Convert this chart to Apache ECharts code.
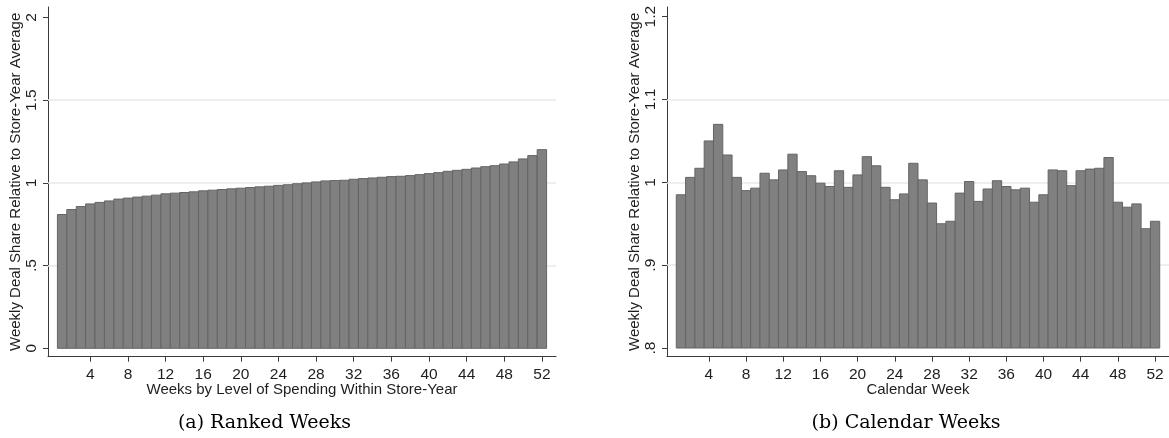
<!DOCTYPE html>
<html>
<head>
<meta charset="utf-8">
<script src="https://cdn.jsdelivr.net/npm/echarts@6/dist/echarts.min.js"></script>
<style>
  html, body { margin: 0; padding: 0; background: #ffffff; }
  #chart { width: 1169px; height: 438px; }
</style>
</head>
<body>
<div id="chart"></div>
<script>
// Weekly deal share relative to the store-year average, 52 weeks per panel
const weeks = Array.from({ length: 52 }, (_, i) => i + 1);

// Panel (a): weeks ranked by level of spending within store-year
const rankedShare = [
  0.809, 0.839, 0.857, 0.873, 0.882, 0.891, 0.902, 0.908, 0.914, 0.920,
  0.926, 0.934, 0.938, 0.942, 0.946, 0.952, 0.956, 0.960, 0.964, 0.968,
  0.972, 0.976, 0.980, 0.985, 0.989, 0.995, 1.000, 1.006, 1.012, 1.014,
  1.016, 1.022, 1.026, 1.030, 1.034, 1.038, 1.040, 1.044, 1.050, 1.056,
  1.062, 1.070, 1.076, 1.082, 1.090, 1.098, 1.104, 1.114, 1.127, 1.145,
  1.165, 1.201
];

// Panel (b): calendar weeks
const calendarShare = [
  0.985, 1.006, 1.017, 1.050, 1.070, 1.033, 1.006, 0.990, 0.993, 1.011,
  1.003, 1.015, 1.034, 1.013, 1.008, 0.999, 0.995, 1.014, 0.994, 1.009,
  1.031, 1.020, 0.994, 0.979, 0.986, 1.023, 1.003, 0.975, 0.950, 0.953,
  0.987, 1.001, 0.977, 0.992, 1.002, 0.995, 0.991, 0.993, 0.976, 0.985,
  1.015, 1.014, 0.996, 1.014, 1.016, 1.017, 1.030, 0.976, 0.970, 0.974,
  0.944, 0.953
];

const xTicks = [4, 8, 12, 16, 20, 24, 28, 32, 36, 40, 44, 48, 52];
const rankedYTicks = [0, 0.5, 1, 1.5, 2];
const rankedGrid = [0.5, 1, 1.5];
const calendarYTicks = [0.8, 0.9, 1, 1.1, 1.2];
const calendarGrid = [0.9, 1, 1.1];

const xTitles = ['Weeks by Level of Spending Within Store-Year', 'Calendar Week'];
const yTitle = 'Weekly Deal Share Relative to Store-Year Average';
const captions = ['(a) Ranked Weeks', '(b) Calendar Weeks'];

const SANS = '"Liberation Sans", Arial, Helvetica, sans-serif';
const INK = '#1e1e1e';
const AXIS = '#3a3a3a';

// Stata-style tick labels: drop the leading zero (".5", ".8")
const stataFmt = v => {
  const r = Math.round(v * 100) / 100;
  let s = String(r);
  if (s.startsWith('0.')) s = s.slice(1);
  return s;
};

function xAxisFor(gridIndex, name) {
  return {
    type: 'value', gridIndex, min: -0.5, max: 53.5,
    name, nameLocation: 'middle', nameGap: 26, nameMoveOverlap: false,
    nameTextStyle: { fontFamily: SANS, fontSize: 15, color: INK },
    axisLine: { show: true, onZero: false, lineStyle: { color: AXIS, width: 1 } },
    axisTick: { show: true, customValues: xTicks, length: 5, lineStyle: { color: AXIS } },
    axisLabel: { customValues: xTicks, margin: 10, fontFamily: SANS, fontSize: 15.5, color: INK },
    splitLine: { show: false }
  };
}

function yAxisFor(gridIndex, min, max, ticks) {
  return {
    type: 'value', gridIndex, min, max,
    name: yTitle, nameLocation: 'middle', nameGap: 25,
    nameTextStyle: { fontFamily: SANS, fontSize: 15, color: INK },
    axisLine: { show: true, onZero: false, lineStyle: { color: AXIS, width: 1 } },
    axisTick: { show: true, customValues: ticks, length: 5, lineStyle: { color: AXIS } },
    axisLabel: {
      customValues: ticks, rotate: 90, margin: 8,
      fontFamily: SANS, fontSize: 15.5, color: INK,
      formatter: stataFmt
    },
    splitLine: { show: false }
  };
}

function barsFor(index, values, base, gridLines) {
  return {
    type: 'custom', xAxisIndex: index, yAxisIndex: index,
    data: weeks.map((w, i) => [w, values[i]]),
    encode: { x: 0, y: 1 },
    renderItem: (params, api) => {
      const x = api.value(0), v = api.value(1);
      const p0 = api.coord([x - 0.5, base]);
      const p1 = api.coord([x + 0.5, v]);
      return {
        type: 'rect',
        shape: { x: p0[0], y: p1[1], width: p1[0] - p0[0], height: p0[1] - p1[1] },
        style: { fill: '#808080', stroke: '#646464', lineWidth: 1 }
      };
    },
    markLine: {
      silent: true, symbol: 'none', z: 1,
      label: { show: false },
      lineStyle: { color: '#e8e8e8', width: 1.5, type: 'solid' },
      data: gridLines.map(g => ({ yAxis: g }))
    },
    z: 3
  };
}

const chart = echarts.init(document.getElementById('chart'), null, { renderer: 'canvas' });
chart.setOption({
  backgroundColor: '#ffffff',
  animation: false,
  grid: [
    { left: 48, top: 7, width: 508, height: 349.7 },
    { left: 667, top: 7, width: 506, height: 349.7 }
  ],
  xAxis: [xAxisFor(0, xTitles[0]), xAxisFor(1, xTitles[1])],
  yAxis: [
    yAxisFor(0, -0.0508, 2.0635, rankedYTicks),
    yAxisFor(1, 0.7895, 1.2117, calendarYTicks)
  ],
  series: [
    barsFor(0, rankedShare, 0, rankedGrid),
    barsFor(1, calendarShare, 0.8, calendarGrid)
  ],
  graphic: [
    { type: 'text', x: 264.5, y: 423, style: { text: captions[0], font: '19px "DejaVu Serif", serif', fill: '#000', align: 'center', verticalAlign: 'middle' } },
    { type: 'text', x: 906, y: 423, style: { text: captions[1], font: '19px "DejaVu Serif", serif', fill: '#000', align: 'center', verticalAlign: 'middle' } }
  ]
});
</script>
</body>
</html>
